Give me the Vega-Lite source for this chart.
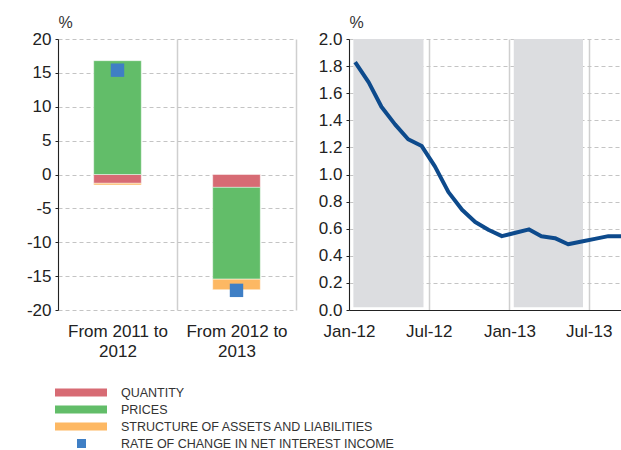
{
  "$schema": "https://vega.github.io/schema/vega-lite/v6.json",
  "autosize": {"type": "pad"},
  "padding": {"left": 26, "top": 14, "right": 0, "bottom": 0},
  "background": "white",
  "config": {
    "font": "Liberation Sans",
    "view": {"stroke": null},
    "axis": {
      "labelFont": "Liberation Sans",
      "labelFontSize": 17,
      "labelColor": "#222",
      "labelOverlap": false,
      "titleFont": "Liberation Sans",
      "titleFontSize": 16,
      "titleFontWeight": "normal",
      "titleColor": "#333"
    }
  },
  "datasets": {
    "contrib": [
      {"period": "From 2011 to 2012", "component": "QUANTITY", "order": 1, "value": -1.3},
      {"period": "From 2011 to 2012", "component": "PRICES", "order": 2, "value": 16.8},
      {"period": "From 2011 to 2012", "component": "STRUCTURE OF ASSETS AND LIABILITIES", "order": 3, "value": -0.25},
      {"period": "From 2012 to 2013", "component": "QUANTITY", "order": 1, "value": -1.9},
      {"period": "From 2012 to 2013", "component": "PRICES", "order": 2, "value": -13.55},
      {"period": "From 2012 to 2013", "component": "STRUCTURE OF ASSETS AND LIABILITIES", "order": 3, "value": -1.55}
    ],
    "rate": [
      {"period": "From 2011 to 2012", "component": "RATE OF CHANGE IN NET INTEREST INCOME", "value": 15.4},
      {"period": "From 2012 to 2013", "component": "RATE OF CHANGE IN NET INTEREST INCOME", "value": -17.1}
    ],
    "nii": [
      {"date": "2012-01-15T00:00:00", "value": 1.83},
      {"date": "2012-02-15T00:00:00", "value": 1.68},
      {"date": "2012-03-15T00:00:00", "value": 1.5},
      {"date": "2012-04-15T00:00:00", "value": 1.37},
      {"date": "2012-05-15T00:00:00", "value": 1.26},
      {"date": "2012-06-15T00:00:00", "value": 1.21},
      {"date": "2012-07-15T00:00:00", "value": 1.06},
      {"date": "2012-08-15T00:00:00", "value": 0.87},
      {"date": "2012-09-15T00:00:00", "value": 0.74},
      {"date": "2012-10-15T00:00:00", "value": 0.65},
      {"date": "2012-11-15T00:00:00", "value": 0.59},
      {"date": "2012-12-15T00:00:00", "value": 0.545},
      {"date": "2013-01-15T00:00:00", "value": 0.57},
      {"date": "2013-02-15T00:00:00", "value": 0.595},
      {"date": "2013-03-15T00:00:00", "value": 0.545},
      {"date": "2013-04-15T00:00:00", "value": 0.53},
      {"date": "2013-05-15T00:00:00", "value": 0.485},
      {"date": "2013-06-15T00:00:00", "value": 0.505},
      {"date": "2013-07-15T00:00:00", "value": 0.525},
      {"date": "2013-08-15T00:00:00", "value": 0.545},
      {"date": "2013-09-15T00:00:00", "value": 0.545}
    ],
    "shade": [
      {"start": "2012-01-11T00:00:00", "end": "2012-06-19T00:00:00"},
      {"start": "2013-01-11T00:00:00", "end": "2013-06-18T00:00:00"}
    ],
    "legend": [
      {"component": "QUANTITY", "kind": "bar"},
      {"component": "PRICES", "kind": "bar"},
      {"component": "STRUCTURE OF ASSETS AND LIABILITIES", "kind": "bar"},
      {"component": "RATE OF CHANGE IN NET INTEREST INCOME", "kind": "square"}
    ]
  },
  "resolve": {"scale": {"color": "shared"}},
  "spacing": 25,
  "vconcat": [
    {
      "spacing": 22,
      "hconcat": [
        {
          "width": 238,
          "height": 271,
          "layer": [
            {
              "data": {"name": "contrib"},
              "mark": {"type": "bar", "width": {"band": 0.4}, "stroke": "white", "strokeOpacity": 0.45, "strokeWidth": 1},
              "encoding": {
                "x": {
                  "field": "period", "type": "nominal", "sort": null,
                  "scale": {"paddingInner": 0, "paddingOuter": 0},
                  "axis": {
                    "title": null, "labelAngle": 0, "domain": false, "ticks": false,
                    "labelPadding": 13, "labelLineHeight": 20,
                    "labelExpr": "[slice(datum.label, 0, 12), slice(datum.label, 13)]",
                    "grid": true, "tickBand": "extent", "gridColor": "#cfcfcf", "gridWidth": 1.5
                  }
                },
                "y": {
                  "field": "value", "type": "quantitative", "stack": true,
                  "scale": {"domain": [-20, 20]},
                  "axis": {
                    "title": "%", "titleAngle": 0, "titleAlign": "left", "titleX": 0, "titleY": -12,
                    "titleBaseline": "alphabetic",
                    "values": [-20, -15, -10, -5, 0, 5, 10, 15, 20],
                    "tickCount": 20,
                    "labelOverlap": false,
                    "labelExpr": "datum.value < 0 ? '-' + abs(datum.value) : '' + datum.value",
                    "grid": true, "gridDash": [4, 3], "gridColor": "#c4c4c4",
                    "domainColor": "#222", "tickColor": "#222", "tickSize": 3, "labelPadding": 4
                  }
                },
                "color": {
                  "field": "component", "type": "nominal",
                  "scale": {
                    "domain": ["QUANTITY", "PRICES", "STRUCTURE OF ASSETS AND LIABILITIES", "RATE OF CHANGE IN NET INTEREST INCOME"],
                    "range": ["#d76b74", "#62bd69", "#fdb863", "#3f7fc5"]
                  },
                  "legend": null
                },
                "order": {"field": "order"}
              }
            },
            {
              "mark": {"type": "rule", "color": "#222", "strokeWidth": 1.5},
              "encoding": {"y": {"datum": 0}}
            },
            {
              "data": {"name": "rate"},
              "mark": {"type": "square", "size": 180, "opacity": 1, "filled": true},
              "encoding": {
                "x": {"field": "period", "type": "nominal", "sort": null},
                "y": {"field": "value", "type": "quantitative"},
                "color": {"field": "component", "type": "nominal", "legend": null}
              }
            }
          ]
        },
        {
          "width": 273,
          "height": 271,
          "layer": [
            {
              "data": {"name": "shade"},
              "mark": {"type": "rect", "color": "#dcdde0"},
              "encoding": {
                "x": {"field": "start", "type": "temporal"},
                "x2": {"field": "end"},
                "y": {"datum": 0.02, "type": "quantitative"},
                "y2": {"datum": 2}
              }
            },
            {
              "data": {"name": "nii"},
              "mark": {"type": "line", "color": "#0d4a8c", "strokeWidth": 4, "strokeJoin": "round"},
              "encoding": {
                "x": {
                  "field": "date", "type": "temporal",
                  "scale": {"domain": [{"year": 2012, "month": 1, "date": 1}, {"year": 2013, "month": 9, "date": 15}]},
                  "axis": {
                    "title": null, "format": "%b-%y", "labelAngle": 0, "labelFlush": false,
                    "values": [
                      {"year": 2012, "month": 1, "date": 1},
                      {"year": 2012, "month": 7, "date": 1},
                      {"year": 2013, "month": 1, "date": 1},
                      {"year": 2013, "month": 7, "date": 1}
                    ],
                    "tickCount": 10,
                    "grid": true, "gridColor": "#cfcfcf", "gridWidth": 1.5,
                    "domainColor": "#222", "ticks": false, "labelPadding": 13
                  }
                },
                "y": {
                  "field": "value", "type": "quantitative",
                  "scale": {"domain": [0, 2]},
                  "axis": {
                    "title": "%", "titleAngle": 0, "titleAlign": "left", "titleX": 0, "titleY": -12,
                    "titleBaseline": "alphabetic",
                    "values": [0, 0.2, 0.4, 0.6, 0.8, 1, 1.2, 1.4, 1.6, 1.8, 2],
                    "tickCount": 20,
                    "labelOverlap": false,
                    "format": ".1f",
                    "grid": true, "gridDash": [4, 3], "gridColor": "#c4c4c4",
                    "domainColor": "#222", "tickColor": "#222", "tickSize": 3, "labelPadding": 4
                  }
                }
              }
            }
          ]
        }
      ]
    },
    {
      "width": 400,
      "height": 68,
      "data": {"name": "legend"},
      "encoding": {
        "y": {
          "field": "component", "type": "nominal", "sort": null,
          "scale": {"type": "point", "padding": 0.5},
          "axis": null
        }
      },
      "layer": [
        {
          "transform": [{"filter": "datum.kind == 'bar'"}],
          "mark": {"type": "tick", "orient": "horizontal", "size": 52, "thickness": 8, "opacity": 1},
          "encoding": {
            "x": {"datum": 23, "type": "quantitative", "scale": {"domain": [0, 400]}, "axis": null},
            "color": {"field": "component", "type": "nominal", "legend": null}
          }
        },
        {
          "transform": [{"filter": "datum.kind == 'square'"}],
          "mark": {"type": "square", "size": 81, "opacity": 1, "filled": true},
          "encoding": {
            "x": {"datum": 23.5, "type": "quantitative"},
            "color": {"field": "component", "type": "nominal", "legend": null}
          }
        },
        {
          "mark": {"type": "text", "align": "left", "baseline": "middle", "font": "Liberation Sans", "fontSize": 12.5, "color": "#333"},
          "encoding": {
            "x": {"datum": 63, "type": "quantitative"},
            "text": {"field": "component"}
          }
        }
      ]
    }
  ]
}
